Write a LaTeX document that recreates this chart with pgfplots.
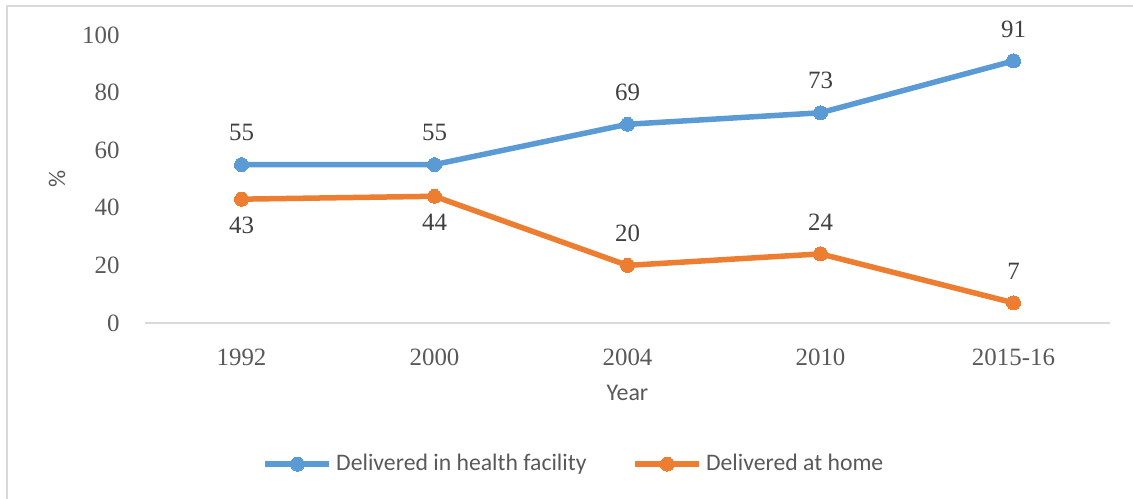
\documentclass[border=0pt]{standalone}
\usepackage{fontspec}
\setmainfont{Liberation Serif}
\newfontfamily\calibri{Carlito}
\usepackage{pgfplots}
\usepackage{pgfplotstable}
\pgfplotsset{compat=1.18}

\definecolor{cblue}{HTML}{5B9BD5}
\definecolor{corange}{HTML}{ED7D31}
\definecolor{ticktxt}{HTML}{595959}
\definecolor{lbltxt}{HTML}{404040}
\definecolor{axgray}{HTML}{D9D9D9}

% year index, value, label offset (bp)
\pgfplotstableread{
x y dy
0 55 16
1 55 16
2 69 16
3 73 16
4 91 16
}\facility
\pgfplotstableread{
x y dy
0 43 -13
1 44 -13
2 20 16
3 24 16
4 7 16
}\home

\begin{document}
\begin{tikzpicture}
\useasboundingbox (0,0) rectangle (566.5bp,-249.5bp);
\draw[axgray, line width=1bp] (3.5bp,-249.5bp) -- (3.5bp,-3bp) -- (566.5bp,-3bp);

\begin{axis}[
    at={(72.5bp,-161.5bp)}, anchor=south west,
    scale only axis,
    width=482.5bp, height=144bp,
    xmin=-0.5, xmax=4.5,
    ymin=0, ymax=100,
    xtick={0,1,2,3,4},
    xticklabels={1992,2000,2004,2010,2015-16},
    ytick={0,20,...,100},
    separate axis lines,
    axis x line*=bottom,
    axis y line*=left,
    x axis line style={draw=axgray, line width=1bp, -},
    y axis line style={draw=none},
    major tick length=0pt,
    tick style={draw=none},
    /pgf/number format/assume math mode=true,
    ticklabel style={font=\fontsize{12.5}{14}\selectfont, text=ticktxt},
    yticklabel style={inner sep=0pt, anchor=east, xshift=-12.5bp},
    xticklabel style={inner sep=0pt, anchor=north, yshift=-13bp},
    xlabel={Year},
    xlabel style={font=\calibri\fontsize{12}{14}\selectfont, text=ticktxt,
        at={(axis description cs:0.5,0)}, anchor=center, yshift=-35bp},
    ylabel={\%},
    ylabel style={font=\calibri\fontsize{12}{14}\selectfont, text=ticktxt,
        at={(axis description cs:-0.0912,0.5)}, anchor=center},
    clip=false,
    legend columns=2,
    legend style={draw=none, fill=none, at={(axis description cs:0.4456,-0.49)},
        anchor=center, font=\calibri\fontsize{11.9}{14}\selectfont, text=ticktxt,
        /tikz/every even column/.append style={column sep=21bp},
        cells={anchor=west, inner xsep=1.5bp}},
    legend image code/.code={
        \draw[mark repeat=2, mark phase=2, #1] plot coordinates {(0bp,0bp) (16bp,0bp) (32bp,0bp)};
    },
    nodes near coords,
    visualization depends on={\thisrow{dy} \as \dy},
    every node near coord/.append style={anchor=center, yshift=\dy*1bp,
        font=\fontsize{12.5}{14}\selectfont, text=lbltxt, inner sep=0pt},
]
\addplot[cblue, line width=2.75bp, mark=*, mark size=3.5bp,
    mark options={fill=cblue, draw=cblue, line width=0pt}] table[x=x, y=y] {\facility};
\addlegendentry{Delivered in health facility}
\addplot[corange, line width=2.75bp, mark=*, mark size=3.5bp,
    mark options={fill=corange, draw=corange, line width=0pt}] table[x=x, y=y] {\home};
\addlegendentry{Delivered at home}
\end{axis}
\end{tikzpicture}
\end{document}
